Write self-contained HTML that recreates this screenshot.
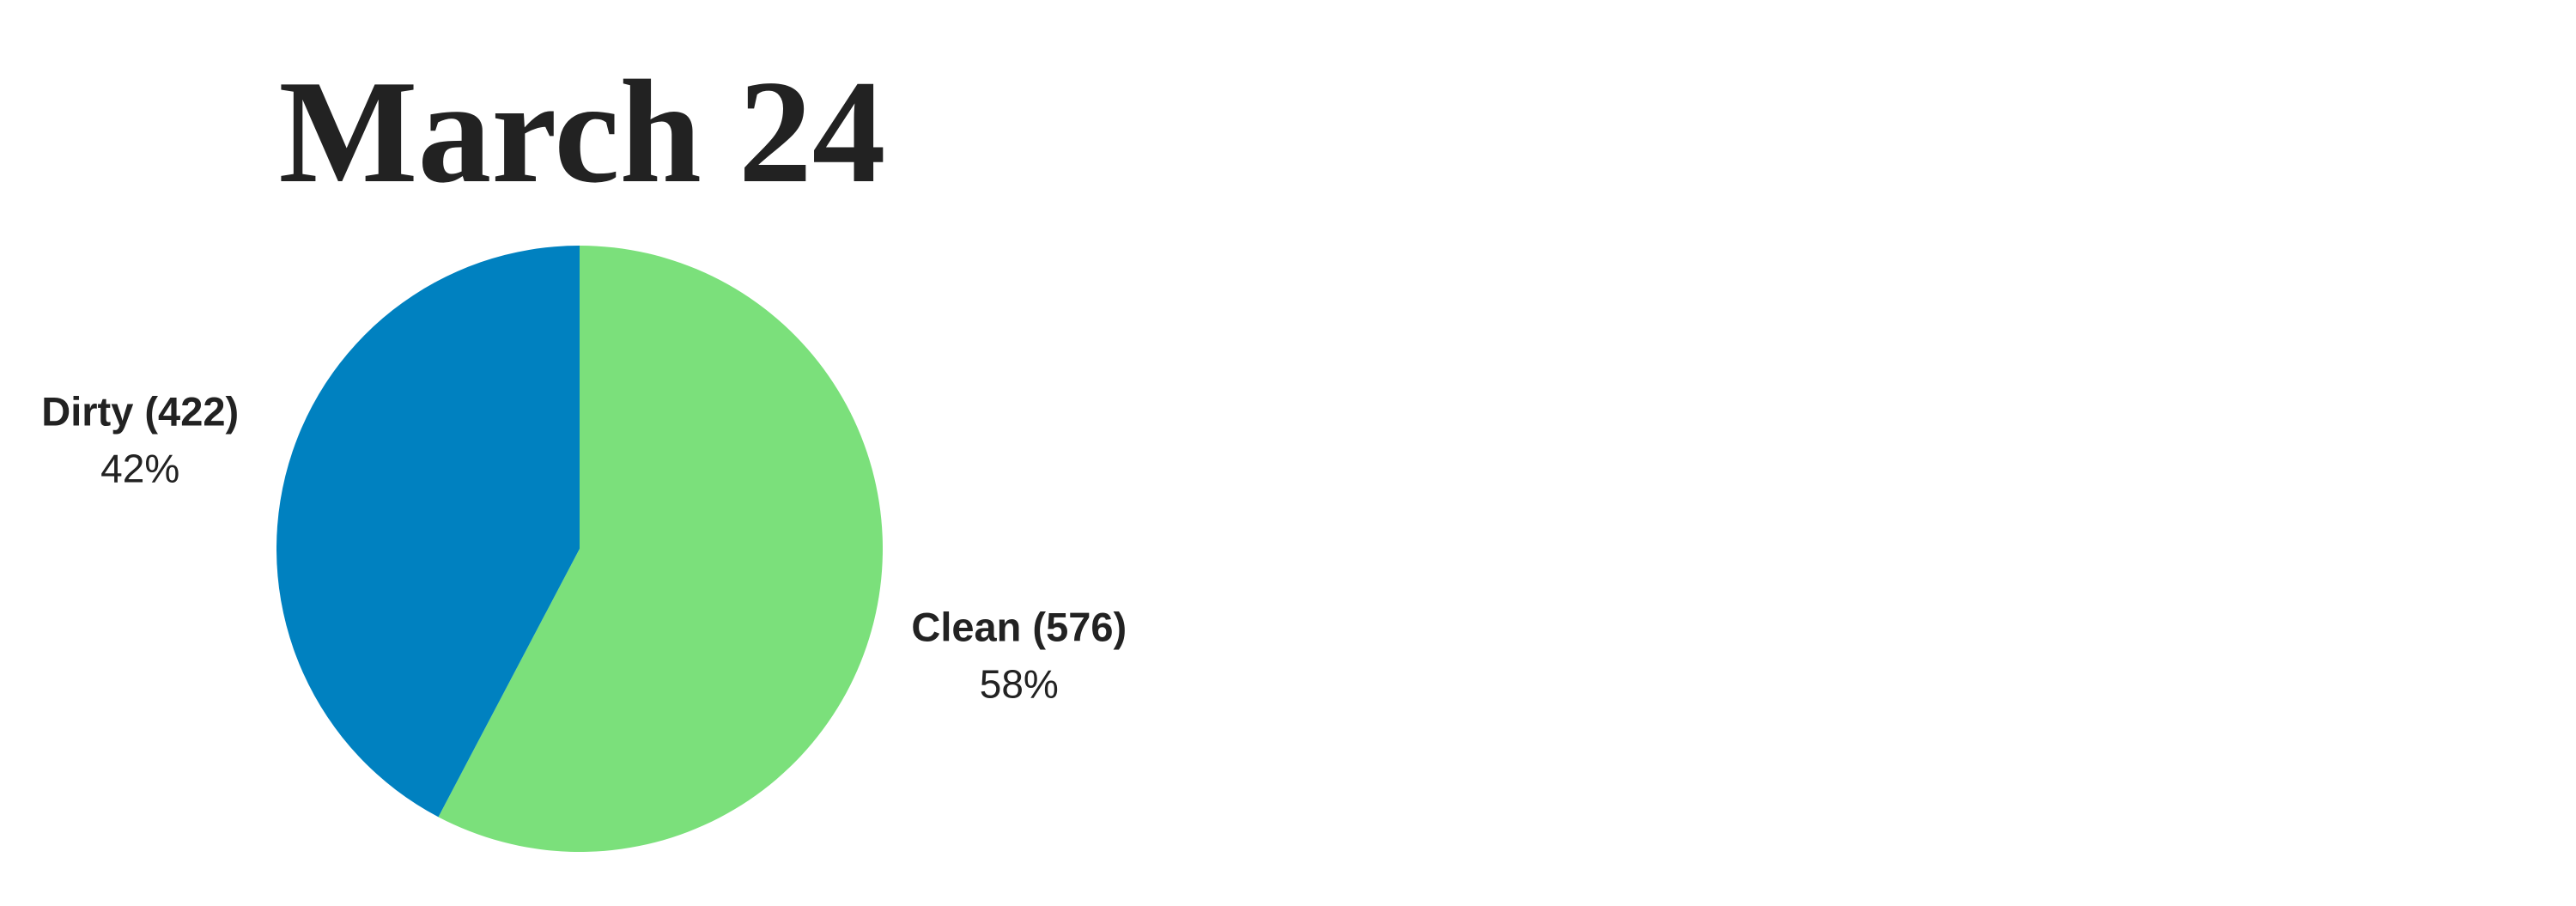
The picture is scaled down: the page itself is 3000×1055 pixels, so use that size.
<!DOCTYPE html>
<html><head><meta charset="utf-8"><style>
html,body{margin:0;padding:0;background:#fff;}
body{width:3000px;height:1055px;position:relative;overflow:hidden;}
svg{position:absolute;left:0;top:0;}
</style></head><body>
<svg id="chart" width="3000" height="1055" viewBox="0 0 3000 1055">
<text x="678" y="211" text-anchor="middle" font-family="'Liberation Serif',serif" font-weight="bold" font-size="172" fill="#222" textLength="707" lengthAdjust="spacingAndGlyphs">March 24</text>
<g id="slices"></g>
<g id="labels"></g>
</svg>
<script>
const categories = ["Clean", "Dirty"];
const values = [576, 422];
const colors = ["#7BE07B", "#0081C0"];
const cx = 675, cy = 639, r = 353;
const total = values.reduce((a,b)=>a+b,0);
const NS = "http://www.w3.org/2000/svg";
const sg = document.getElementById("slices");
const lg = document.getElementById("labels");
let a0 = 0;
values.forEach((v,i)=>{
  const a1 = a0 + v/total*2*Math.PI;
  const p = (a)=>[cx+r*Math.sin(a), cy-r*Math.cos(a)];
  const [x0,y0]=p(a0),[x1,y1]=p(a1);
  const large = (a1-a0)>Math.PI?1:0;
  const path=document.createElementNS(NS,"path");
  path.setAttribute("d",`M${cx},${cy} L${x0},${y0} A${r},${r} 0 ${large} 1 ${x1},${y1} Z`);
  path.setAttribute("fill",colors[i]);
  
  
  sg.appendChild(path);
  const mid=(a0+a1)/2;
  const lr = r*1.45;
  const lx = cx+lr*Math.sin(mid)*1.03, ly = cy-lr*Math.cos(mid)*1.02-18;
  const t1=document.createElementNS(NS,"text");
  t1.setAttribute("x",lx); t1.setAttribute("y",ly);
  t1.setAttribute("text-anchor","middle");
  t1.setAttribute("font-family","'Liberation Sans',sans-serif");
  t1.setAttribute("font-weight","bold"); t1.setAttribute("font-size","47"); t1.setAttribute("fill","#222");
  t1.textContent = categories[i]+" ("+v+")";
  
  
  lg.appendChild(t1);
  const t2=document.createElementNS(NS,"text");
  t2.setAttribute("x",lx); t2.setAttribute("y",ly+66);
  t2.setAttribute("text-anchor","middle");
  t2.setAttribute("font-family","'Liberation Sans',sans-serif");
  t2.setAttribute("font-size","46"); t2.setAttribute("fill","#222");
  t2.textContent = Math.round(v/total*100)+"%";
  
  
  lg.appendChild(t2);
  a0=a1;
});
</script>
</body></html>
